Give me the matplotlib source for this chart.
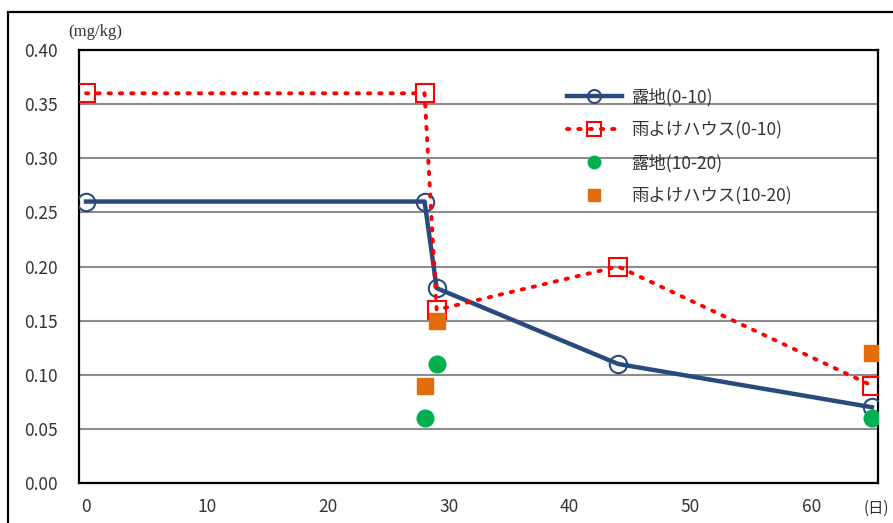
import matplotlib.pyplot as plt
from matplotlib.patches import Rectangle

plt.rcParams['font.family'] = ['Noto Sans CJK JP', 'DejaVu Sans']

# days after treatment
x_open_0_10 = [0, 28, 29, 44, 65]
y_open_0_10 = [0.26, 0.26, 0.18, 0.11, 0.07]
x_house_0_10 = [0, 28, 29, 44, 65]
y_house_0_10 = [0.36, 0.36, 0.16, 0.20, 0.09]
x_open_10_20 = [28, 29, 65]
y_open_10_20 = [0.06, 0.11, 0.06]
x_house_10_20 = [28, 29, 65]
y_house_10_20 = [0.09, 0.15, 0.12]

labels = ['露地(0-10)', '雨よけハウス(0-10)', '露地(10-20)', '雨よけハウス(10-20)']
x_ticks = [0, 10, 20, 30, 40, 50, 60]
y_ticks = [0.00, 0.05, 0.10, 0.15, 0.20, 0.25, 0.30, 0.35, 0.40]

navy = '#284B7E'
red = '#FF0000'
green = '#00B050'
orange = '#E46C0A'
txt = '#333333'

fig = plt.figure(figsize=(8.93, 5.23), dpi=100)
ax = fig.add_axes([79 / 893, 1 - 483 / 523, (878 - 79) / 893, (483 - 50) / 523])

# outer chart frame (cropped at right/bottom)
fig.patches.append(Rectangle((8 / 893, -0.1), 1.2, 1 - 12 / 523 + 0.1, transform=fig.transFigure,
                             fill=False, edgecolor='black', linewidth=1.6))

ax.plot(x_open_0_10, y_open_0_10, color=navy, linewidth=3.2, marker='o', markersize=12.5,
        markerfacecolor='none', markeredgecolor=navy, markeredgewidth=1.5, label=labels[0], zorder=3)
ax.plot(x_house_0_10, y_house_0_10, color=red, linewidth=2.8, linestyle=(0, (0.6, 2.3)),
        dash_capstyle='round', marker='s', markersize=12.5, markerfacecolor='none',
        markeredgecolor=red, markeredgewidth=1.5, label=labels[1], zorder=4)
ax.plot(x_open_10_20, y_open_10_20, linestyle='none', marker='o', markersize=12,
        color=green, label=labels[2], zorder=5)
ax.plot(x_house_10_20, y_house_10_20, linestyle='none', marker='s', markersize=12,
        color=orange, label=labels[3], zorder=6)

ax.set_xlim(-0.58, 65.5)
ax.set_ylim(0, 0.40)
ax.set_xticks(x_ticks)
ax.set_yticks(y_ticks)
ax.set_yticklabels([f'{v:.2f}' for v in y_ticks])
ax.tick_params(length=0, labelsize=12.5, labelcolor=txt)
ax.tick_params(axis='x', pad=11)
ax.tick_params(axis='y', pad=15)
ax.grid(axis='y', color='#8C8C8C', linewidth=1.5)
ax.set_axisbelow(True)
for s in ax.spines.values():
    s.set_color('black')
    s.set_linewidth(1.6)

fig.text(68 / 893, 1 - 32 / 523, '(mg/kg)', fontsize=12, family='Liberation Serif',
         va='center', ha='left', color=txt)
fig.text(864 / 893, 1 - 508 / 523, '(日)', fontsize=11, va='center', ha='left', color=txt)

ax.legend(loc='upper left', bbox_to_anchor=(551 / 893, 1 - 72 / 523), bbox_transform=fig.transFigure,
          frameon=False, fontsize=12.5, handlelength=3.2, handletextpad=0.5, labelspacing=0.85,
          labelcolor=txt, markerscale=0.75)

fig.savefig('out.png', dpi=100)
